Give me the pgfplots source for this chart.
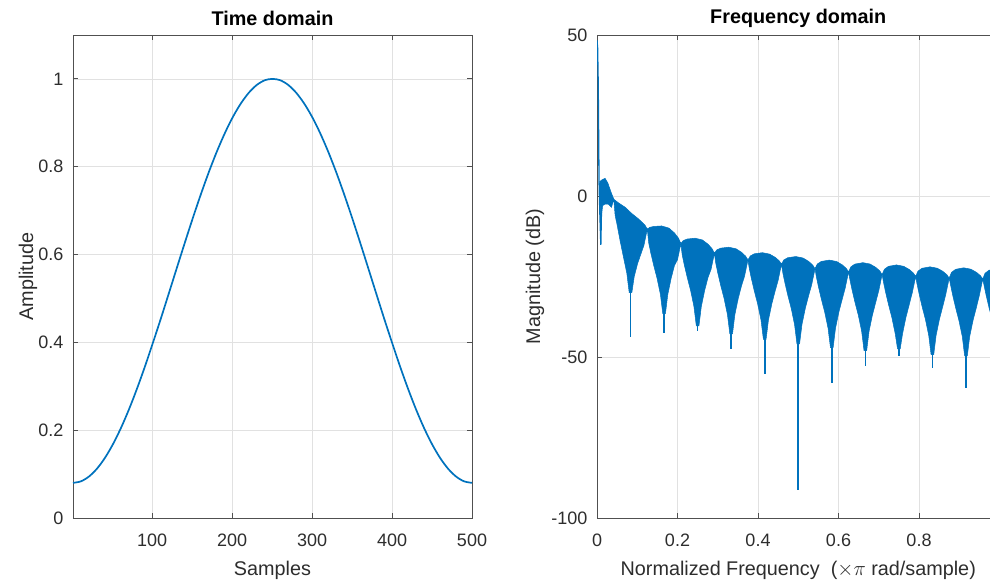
\documentclass[border=0pt]{standalone}
\usepackage{pgfplots}
\pgfplotsset{compat=1.18}
\usepackage{fontspec}
\setmainfont{Liberation Sans}
\definecolor{mblue}{RGB}{0,114,189}
\definecolor{axgray}{RGB}{80,80,80}
\definecolor{txtgray}{RGB}{45,45,45}
\definecolor{gridgray}{RGB}{225,225,225}
\pgfplotsset{
  mystyle/.style={
    scale only axis,
    height=483pt,
    axis line style={axgray, line width=0.9pt},
    tick style={axgray, line width=0.9pt},
    tick align=inside,
    major tick length=5pt,
    xtick pos=both, ytick pos=both,
    grid=major,
    grid style={gridgray, line width=0.6pt},
    /pgf/number format/assume math mode=true,
    ticklabel style={font=\fontsize{18}{21}\selectfont, text=txtgray},
    xticklabel style={yshift=-12.5pt},
    yticklabel style={xshift=-6pt},
    label style={font=\fontsize{19.8}{23}\selectfont, text=txtgray},
    title style={font=\fontsize{19.8}{23}\selectfont\bfseries, text=black,
      at={(axis description cs:0.5,1)}, anchor=center, yshift=11pt},
    xlabel style={at={(axis description cs:0.5,0)}, anchor=center, yshift=-52pt},
  }
}
\begin{document}
\begin{tikzpicture}
\begin{axis}[mystyle,
  at={(73pt,-518pt)}, anchor=south west,
  width=399pt,
  xmin=1, xmax=500, ymin=0, ymax=1.1,
  xtick={100,200,300,400,500},
  ytick={0,0.2,0.4,0.6,0.8,1},
  yticklabels={0,0.2,0.4,0.6,0.8,1},
  title={Time domain},
  xlabel={Samples},
  ylabel={Amplitude},
  ylabel style={at={(axis description cs:0,0.5)}, anchor=center, yshift=45pt},
]
\addplot[mblue, line width=1.7pt, smooth] coordinates {
(1,0.0800) (11,0.0836) (21,0.0945) (31,0.1124) (41,0.1371) (51,0.1682)
(61,0.2051) (71,0.2474) (81,0.2944) (91,0.3453) (101,0.3994) (111,0.4550)
(121,0.5125) (131,0.5704) (141,0.6278) (151,0.6839) (161,0.7377) (171,0.7884)
(181,0.8350) (191,0.8769) (201,0.9136) (211,0.9443) (221,0.9688) (231,0.9865)
(241,0.9971) (250.5,1.0000)
(260,0.9971) (270,0.9865) (280,0.9688) (290,0.9443) (300,0.9136) (310,0.8769)
(320,0.8350) (330,0.7884) (340,0.7377) (350,0.6839) (360,0.6278) (370,0.5704)
(380,0.5125) (390,0.4550) (400,0.3994) (410,0.3453) (420,0.2944) (430,0.2474)
(440,0.2051) (450,0.1682) (460,0.1371) (470,0.1124) (480,0.0945) (490,0.0836)
(500,0.0800)};
\end{axis}
\begin{axis}[mystyle,
  at={(597pt,-518pt)}, anchor=south west,
  width=402.5pt,
  xmin=0, xmax=1, ymin=-100, ymax=50,
  xtick={0,0.2,0.4,0.6,0.8,1},
  xticklabels={0,0.2,0.4,0.6,0.8,{}},
  ytick={-100,-50,0,50},
  title={Frequency domain},
  xlabel={Normalized Frequency\ \ ($\times\pi$ rad/sample)},
  ylabel={Magnitude (dB)},
  ylabel style={at={(axis description cs:0,0.5)}, anchor=center, yshift=62pt},
  unbounded coords=jump,
]
\addplot[fill=mblue, draw=mblue, line width=0.5pt] coordinates {
(0.006,4.4) (0.012,5.0) (0.020,5.5) (0.027,4.0) (0.034,1.5) (0.0417,-1.0)
(0.053,-2.1) (0.070,-3.5) (0.086,-5.4) (0.103,-7.1) (0.119,-9.0) (0.1250,-10.3)
(0.1307,-9.75) (0.1407,-9.45) (0.1607,-9.3) (0.1787,-9.96) (0.1927,-11.5) (0.2027,-13.15) (0.2083,-14.8)
(0.2140,-13.87) (0.2240,-13.36) (0.2440,-13.1) (0.2620,-13.66) (0.2760,-14.98) (0.2860,-16.39) (0.2917,-17.8)
(0.2973,-16.76) (0.3073,-16.19) (0.3273,-15.9) (0.3453,-16.38) (0.3593,-17.5) (0.3693,-18.7) (0.3750,-19.9)
(0.3807,-18.64) (0.3907,-17.95) (0.4107,-17.6) (0.4287,-18.03) (0.4427,-19.04) (0.4527,-20.12) (0.4583,-21.2)
(0.4640,-19.88) (0.4740,-19.16) (0.4940,-18.8) (0.5120,-19.26) (0.5260,-20.32) (0.5360,-21.46) (0.5417,-22.6)
(0.5473,-21.12) (0.5573,-20.31) (0.5773,-19.9) (0.5953,-20.34) (0.6093,-21.38) (0.6193,-22.49) (0.6250,-23.6)
(0.6307,-22.0) (0.6407,-21.14) (0.6607,-20.7) (0.6787,-21.14) (0.6927,-22.18) (0.7027,-23.29) (0.7083,-24.4)
(0.7140,-22.75) (0.7240,-21.85) (0.7440,-21.4) (0.7620,-21.83) (0.7760,-22.84) (0.7860,-23.92) (0.7917,-25.0)
(0.7973,-23.35) (0.8073,-22.45) (0.8273,-22.0) (0.8453,-22.42) (0.8593,-23.4) (0.8693,-24.45) (0.8750,-25.5)
(0.8807,-23.74) (0.8907,-22.78) (0.9107,-22.3) (0.9287,-22.72) (0.9427,-23.7) (0.9527,-24.75) (0.9583,-25.8)
(0.9640,-24.0) (0.9740,-23.05) (0.9940,-22.6) (1.0,-22.62)
(1.0,-52) (0.9967,-49.8) (0.9908,-43.8) (0.9825,-38.8) (0.9742,-34.8) (0.9667,-30.8) (0.9617,-27.8) (0.9583,-25.8)
(0.955,-27.8) (0.95,-30.8) (0.9425,-34.65) (0.9342,-38.65) (0.9259,-43.65) (0.92,-49.65) (0.9134,-49.65) (0.9075,-43.65) (0.8992,-38.65) (0.8909,-34.65) (0.8834,-30.65) (0.8784,-27.65) (0.875,-25.5)
(0.8716,-27.5) (0.8666,-30.5) (0.8591,-34.25) (0.8508,-38.25) (0.8425,-43.25) (0.8366,-49.25) (0.83,-49.25) (0.8241,-43.25) (0.8158,-38.25) (0.8075,-34.25) (0.8,-30.25) (0.795,-27.25) (0.7917,-25.0)
(0.7884,-27.0) (0.7833,-30.0) (0.7758,-33.7) (0.7675,-37.7) (0.7592,-42.7) (0.7533,-47.5) (0.7467,-47.5) (0.7408,-42.7) (0.7325,-37.7) (0.7242,-33.7) (0.7167,-29.7) (0.7117,-26.7) (0.7083,-24.4)
(0.705,-26.4) (0.7,-29.4) (0.6925,-33) (0.6842,-37) (0.6759,-42) (0.67,-48) (0.6634,-48) (0.6575,-42) (0.6492,-37) (0.6409,-33) (0.6334,-29.0) (0.6284,-26.0) (0.625,-23.6)
(0.6216,-25.6) (0.6166,-28.6) (0.6091,-32.1) (0.6008,-36.1) (0.5925,-41.1) (0.5866,-47.1) (0.58,-47.1) (0.5741,-41.1) (0.5658,-36.1) (0.5575,-32.1) (0.55,-28.1) (0.545,-25.1) (0.5417,-22.6)
(0.5383,-24.6) (0.5333,-27.6) (0.5258,-30.9) (0.5175,-34.9) (0.5092,-39.9) (0.5033,-45.9) (0.4967,-45.9) (0.4908,-39.9) (0.4825,-34.9) (0.4742,-30.9) (0.4667,-26.9) (0.4617,-23.9) (0.4583,-21.2)
(0.455,-23.2) (0.45,-26.2) (0.4425,-29.55) (0.4342,-33.55) (0.4259,-38.55) (0.42,-44.55) (0.4134,-44.55) (0.4075,-38.55) (0.3992,-33.55) (0.3909,-29.55) (0.3834,-25.55) (0.3784,-22.55) (0.375,-19.9)
(0.3716,-21.9) (0.3666,-24.9) (0.3591,-27.85) (0.3508,-31.85) (0.3425,-36.85) (0.3366,-42.85) (0.33,-42.85) (0.3241,-36.85) (0.3158,-31.85) (0.3075,-27.85) (0.3,-23.85) (0.295,-20.85) (0.2917,-17.8)
(0.2884,-19.8) (0.2833,-22.8) (0.2758,-25.3) (0.2675,-29.3) (0.2592,-34.3) (0.2533,-40.3) (0.2467,-40.3) (0.2408,-34.3) (0.2325,-29.3) (0.2242,-25.3) (0.2167,-21.3) (0.2117,-18.3) (0.2083,-14.8)
(0.205,-16.8) (0.2,-19.8) (0.1925,-21.55) (0.1842,-25.55) (0.1759,-30.55) (0.17,-36.55) (0.1634,-36.55) (0.1575,-30.55) (0.1492,-25.55) (0.1409,-21.55) (0.1334,-17.55) (0.1284,-14.55) (0.125,-10.3)
(0.1216,-12.3) (0.1166,-15.3) (0.1091,-18) (0.1008,-21) (0.0925,-25) (0.0866,-30) (0.08,-30) (0.0741,-24) (0.0658,-19) (0.0575,-14) (0.05,-9) (0.045,-6.0) (0.0417,-1.0)
(0.036,-3.5) (0.028,-2.5) (0.02,-2.5) (0.014,-3) (0.011,-6) (0.009,-6) (0.007,0)
};
\addplot[mblue, line width=1.6pt] coordinates {
(0.0833,-28) (0.0833,-43.7) (nan,nan)
(0.1667,-35) (0.1667,-42.4) (nan,nan)
(0.25,-39) (0.25,-41.9) (nan,nan)
(0.3333,-41) (0.3333,-47.6) (nan,nan)
(0.4167,-43) (0.4167,-55.3) (nan,nan)
(0.5,-44) (0.5,-91.3) (nan,nan)
(0.5833,-46) (0.5833,-58.0) (nan,nan)
(0.6667,-47) (0.6667,-52.7) (nan,nan)
(0.75,-46) (0.75,-49.7) (nan,nan)
(0.8333,-48) (0.8333,-53.4) (nan,nan)
(0.9167,-48) (0.9167,-59.5)
};
\addplot[mblue, line width=1.3pt] coordinates {
(0,48.4) (0.0015,46) (0.003,35) (0.004,20) (0.005,5) (0.007,-5) (0.0095,-15.2) (0.011,-5) (0.012,2)};
\end{axis}
\pgfresetboundingbox
\path[use as bounding box] (0pt,0pt) rectangle (990pt,-579pt);
\end{tikzpicture}
\end{document}
